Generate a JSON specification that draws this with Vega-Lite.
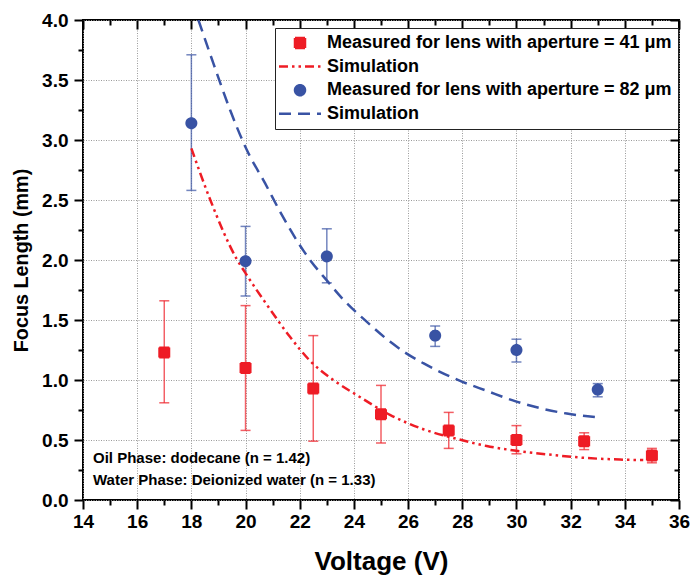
{
  "$schema": "https://vega.github.io/schema/vega-lite/v6.json",
  "width": 596,
  "height": 480,
  "autosize": "none",
  "padding": {"left": 83, "top": 20, "right": 14, "bottom": 75},
  "background": "white",
  "config": {
    "view": {"stroke": "black", "strokeWidth": 2},
    "font": "Liberation Sans",
    "axis": {
      "domain": false,
      "ticks": true,
      "tickColor": "black",
      "labelColor": "black",
      "titleColor": "black",
      "labelFont": "Liberation Sans",
      "titleFont": "Liberation Sans",
      "labelFontWeight": "bold",
      "titleFontWeight": "bold",
      "labelFlush": false,
      "labelOverlap": false
    }
  },
  "datasets": {
    "meas": [
      {"series": "m41", "v": 17, "f": 1.23, "lo": 0.81, "hi": 1.66},
      {"series": "m41", "v": 20, "f": 1.10, "lo": 0.58, "hi": 1.62},
      {"series": "m41", "v": 22.5, "f": 0.93, "lo": 0.49, "hi": 1.37},
      {"series": "m41", "v": 25, "f": 0.715, "lo": 0.475, "hi": 0.955},
      {"series": "m41", "v": 27.5, "f": 0.58, "lo": 0.43, "hi": 0.73},
      {"series": "m41", "v": 30, "f": 0.50, "lo": 0.385, "hi": 0.62},
      {"series": "m41", "v": 32.5, "f": 0.49, "lo": 0.42, "hi": 0.56},
      {"series": "m41", "v": 35, "f": 0.37, "lo": 0.31, "hi": 0.43},
      {"series": "m82", "v": 18, "f": 3.14, "lo": 2.58, "hi": 3.71},
      {"series": "m82", "v": 20, "f": 1.99, "lo": 1.70, "hi": 2.28},
      {"series": "m82", "v": 23, "f": 2.03, "lo": 1.81, "hi": 2.26},
      {"series": "m82", "v": 27, "f": 1.37, "lo": 1.28, "hi": 1.45},
      {"series": "m82", "v": 30, "f": 1.25, "lo": 1.15, "hi": 1.34},
      {"series": "m82", "v": 33, "f": 0.92, "lo": 0.86, "hi": 0.97}
    ],
    "sim": [
      {"series": "s41", "v": 18.0, "f": 2.93},
      {"series": "s41", "v": 18.7, "f": 2.50},
      {"series": "s41", "v": 19.67, "f": 2.01},
      {"series": "s41", "v": 20.0, "f": 1.89},
      {"series": "s41", "v": 20.84, "f": 1.61},
      {"series": "s41", "v": 21.64, "f": 1.36},
      {"series": "s41", "v": 22.38, "f": 1.16},
      {"series": "s41", "v": 23.24, "f": 1.00},
      {"series": "s41", "v": 24.1, "f": 0.875},
      {"series": "s41", "v": 25.33, "f": 0.71},
      {"series": "s41", "v": 26.56, "f": 0.59},
      {"series": "s41", "v": 27.79, "f": 0.51},
      {"series": "s41", "v": 28.9, "f": 0.45},
      {"series": "s41", "v": 30.0, "f": 0.41},
      {"series": "s41", "v": 31.36, "f": 0.375},
      {"series": "s41", "v": 32.59, "f": 0.35},
      {"series": "s41", "v": 33.82, "f": 0.337},
      {"series": "s41", "v": 34.68, "f": 0.333},
      {"series": "s82", "v": 18.26, "f": 4.0},
      {"series": "s82", "v": 18.81, "f": 3.64},
      {"series": "s82", "v": 19.43, "f": 3.25},
      {"series": "s82", "v": 20.04, "f": 2.92},
      {"series": "s82", "v": 20.72, "f": 2.64},
      {"series": "s82", "v": 21.33, "f": 2.38},
      {"series": "s82", "v": 22.13, "f": 2.08},
      {"series": "s82", "v": 22.38, "f": 2.0},
      {"series": "s82", "v": 23.0, "f": 1.83},
      {"series": "s82", "v": 23.61, "f": 1.67},
      {"series": "s82", "v": 24.5, "f": 1.48},
      {"series": "s82", "v": 25.33, "f": 1.32},
      {"series": "s82", "v": 25.95, "f": 1.22},
      {"series": "s82", "v": 26.56, "f": 1.14},
      {"series": "s82", "v": 27.9, "f": 0.995},
      {"series": "s82", "v": 28.9, "f": 0.91},
      {"series": "s82", "v": 30.0, "f": 0.82},
      {"series": "s82", "v": 31.86, "f": 0.72},
      {"series": "s82", "v": 32.96, "f": 0.69}
    ],
    "notes": [
      {"v": 14.37, "f": 0.35, "text": "Oil Phase: dodecane (n = 1.42)"},
      {"v": 14.37, "f": 0.165, "text": "Water Phase: Deionized water (n = 1.33)"}
    ]
  },
  "layer": [
    {
      "data": {"name": "meas"},
      "mark": {"type": "rule", "strokeWidth": 1.5, "opacity": 0.7},
      "encoding": {
        "x": {
          "field": "v", "type": "quantitative",
          "scale": {"domain": [14, 36], "nice": false, "zero": false},
          "axis": {
            "orient": "bottom",
            "values": [14, 15, 16, 17, 18, 19, 20, 21, 22, 23, 24, 25, 26, 27, 28, 29, 30, 31, 32, 33, 34, 35, 36],
            "labelExpr": "datum.value % 2 === 0 ? datum.label : ''",
            "tickSize": {"condition": {"test": "datum.value % 2 !== 0", "value": 5}, "value": 9},
            "tickWidth": 2,
            "labelFontSize": 19, "labelPadding": 3,
            "title": "Voltage (V)", "titleFontSize": 26, "titlePadding": 17,
            "grid": true, "gridColor": "#9a9a9a", "gridDash": [1, 1.5], "gridWidth": 1,
            "gridOpacity": {"condition": {"test": "datum.value % 2 !== 0", "value": 0}, "value": 1}
          }
        },
        "y": {
          "field": "lo", "type": "quantitative",
          "scale": {"domain": [0, 4], "nice": false, "zero": false},
          "axis": {
            "orient": "left",
            "values": [0, 0.25, 0.5, 0.75, 1, 1.25, 1.5, 1.75, 2, 2.25, 2.5, 2.75, 3, 3.25, 3.5, 3.75, 4],
            "labelExpr": "(datum.value * 4) % 2 === 0 ? format(datum.value, '.1f') : ''",
            "tickSize": {"condition": {"test": "(datum.value * 4) % 2 !== 0", "value": 5}, "value": 9},
            "tickWidth": 2,
            "labelFontSize": 19, "labelPadding": 6,
            "title": "Focus Length (mm)", "titleFontSize": 19.8, "titlePadding": 10,
            "grid": true, "gridColor": "#9a9a9a", "gridDash": [1, 1.5], "gridWidth": 1,
            "gridOpacity": {"condition": {"test": "(datum.value * 4) % 2 !== 0", "value": 0}, "value": 1}
          }
        },
        "y2": {"field": "hi"},
        "color": {
          "field": "series", "type": "nominal",
          "scale": {"domain": ["m41", "m82"], "range": ["#ee1c25", "#3953a4"]},
          "legend": null
        }
      }
    },
    {
      "data": {"name": "meas"},
      "mark": {"type": "point", "shape": "M-1,0H1", "filled": false, "size": 100, "strokeWidth": 1.5, "opacity": 0.7},
      "encoding": {
        "x": {
          "field": "v", "type": "quantitative",
          "scale": {"domain": [14, 36], "nice": false, "zero": false},
          "axis": {
            "orient": "top", "offset": -9,
            "values": [14, 16, 18, 20, 22, 24, 26, 28, 30, 32, 34, 36],
            "tickSize": 9, "tickWidth": 2,
            "labels": true, "labelOpacity": 0, "labelFontSize": 8,
            "title": null, "grid": false
          }
        },
        "y": {
          "field": "lo", "type": "quantitative",
          "scale": {"domain": [0, 4], "nice": false, "zero": false},
          "axis": {
            "orient": "right", "offset": -9,
            "values": [0, 0.5, 1, 1.5, 2, 2.5, 3, 3.5, 4],
            "tickSize": 9, "tickWidth": 2,
            "labels": true, "labelOpacity": 0, "labelFontSize": 8,
            "title": null, "grid": false
          }
        },
        "color": {
          "field": "series", "type": "nominal",
          "scale": {"domain": ["m41", "m82"], "range": ["#ee1c25", "#3953a4"]},
          "legend": null
        }
      }
    },
    {
      "data": {"name": "meas"},
      "mark": {"type": "point", "shape": "M-1,0H1", "filled": false, "size": 100, "strokeWidth": 1.5, "opacity": 0.7},
      "encoding": {
        "x": {
          "field": "v", "type": "quantitative",
          "scale": {"domain": [14, 36], "nice": false, "zero": false},
          "axis": {
            "orient": "top", "offset": -5,
            "values": [15, 17, 19, 21, 23, 25, 27, 29, 31, 33, 35],
            "tickSize": 5, "tickWidth": 2,
            "labels": true, "labelOpacity": 0, "labelFontSize": 8,
            "title": null, "grid": false
          }
        },
        "y": {
          "field": "hi", "type": "quantitative",
          "scale": {"domain": [0, 4], "nice": false, "zero": false},
          "axis": {
            "orient": "right", "offset": -5,
            "values": [0.25, 0.75, 1.25, 1.75, 2.25, 2.75, 3.25, 3.75],
            "tickSize": 5, "tickWidth": 2,
            "labels": true, "labelOpacity": 0, "labelFontSize": 8,
            "title": null, "grid": false
          }
        },
        "color": {
          "field": "series", "type": "nominal",
          "scale": {"domain": ["m41", "m82"], "range": ["#ee1c25", "#3953a4"]},
          "legend": null
        }
      }
    },
    {
      "data": {"name": "sim"},
      "transform": [{"filter": "datum.series === 's41'"}],
      "mark": {"type": "line", "color": "#ee1c25", "strokeWidth": 2.5, "interpolate": "monotone", "strokeCap": "butt", "strokeDash": [9, 4, 2.5, 4, 2.5, 4], "clip": true},
      "encoding": {
        "x": {"field": "v", "type": "quantitative", "scale": {"domain": [14, 36], "nice": false, "zero": false}, "axis": null},
        "y": {"field": "f", "type": "quantitative", "scale": {"domain": [0, 4], "nice": false, "zero": false}, "axis": null}
      }
    },
    {
      "data": {"name": "sim"},
      "transform": [{"filter": "datum.series === 's82'"}],
      "mark": {"type": "line", "color": "#3953a4", "strokeWidth": 2.5, "interpolate": "monotone", "strokeCap": "butt", "strokeDash": [12, 7], "clip": true},
      "encoding": {
        "x": {"field": "v", "type": "quantitative", "scale": {"domain": [14, 36], "nice": false, "zero": false}, "axis": null},
        "y": {"field": "f", "type": "quantitative", "scale": {"domain": [0, 4], "nice": false, "zero": false}, "axis": null}
      }
    },
    {
      "data": {"name": "notes"},
      "mark": {"type": "text", "align": "left", "baseline": "middle", "font": "Liberation Sans", "fontWeight": "bold", "fontSize": 15, "color": "black"},
      "encoding": {
        "x": {"field": "v", "type": "quantitative", "scale": {"domain": [14, 36], "nice": false, "zero": false}, "axis": null},
        "y": {"field": "f", "type": "quantitative", "scale": {"domain": [0, 4], "nice": false, "zero": false}, "axis": null},
        "text": {"field": "text"}
      }
    },
    {
      "data": {"name": "meas"},
      "mark": {"type": "point", "filled": true, "opacity": 1, "size": 100, "strokeWidth": 2},
      "encoding": {
        "x": {"field": "v", "type": "quantitative", "scale": {"domain": [14, 36], "nice": false, "zero": false}, "axis": null},
        "y": {"field": "f", "type": "quantitative", "scale": {"domain": [0, 4], "nice": false, "zero": false}, "axis": null},
        "fill": {
          "field": "series", "type": "nominal",
          "scale": {"domain": ["m41", "s41", "m82", "s82"], "range": ["#ee1c25", "#ee1c25", "#3953a4", "#3953a4"]},
          "legend": {
            "orient": "none",
            "legendX": 192,
            "legendY": 8,
            "title": null,
            "direction": "vertical",
            "padding": 6,
            "rowPadding": 4.6,
            "symbolOffset": 10,
            "labelOffset": 18,
            "symbolSize": 100,
            "symbolStrokeWidth": 2.5,
            "strokeColor": "#222222",
            "fillColor": "white",
            "labelFont": "Liberation Sans",
            "labelFontWeight": "bold",
            "labelFontSize": 18,
            "labelColor": "black",
            "labelLimit": 500,
            "labelExpr": "datum.value === 'm41' ? 'Measured for lens with aperture = 41 μm' : datum.value === 'm82' ? 'Measured for lens with aperture = 82 μm' : 'Simulation'"
          }
        },
        "stroke": {
          "field": "series", "type": "nominal",
          "scale": {"domain": ["m41", "s41", "m82", "s82"], "range": ["#ee1c25", "#ee1c25", "#3953a4", "#3953a4"]}
        },
        "shape": {
          "field": "series", "type": "nominal",
          "scale": {"domain": ["m41", "s41", "m82", "s82"], "range": ["square", "M-4.2,0H4.2", "circle", "M-4.2,0H4.2"]}
        },
        "strokeDash": {
          "field": "series", "type": "nominal",
          "scale": {"domain": ["m41", "s41", "m82", "s82"], "range": [[1, 0], [9, 4, 2.5, 4, 2.5, 4], [1, 0], [12, 7]]}
        }
      }
    }
  ],
  "resolve": {
    "scale": {"x": "independent", "y": "independent"},
    "axis": {"x": "independent", "y": "independent"}
  }
}
